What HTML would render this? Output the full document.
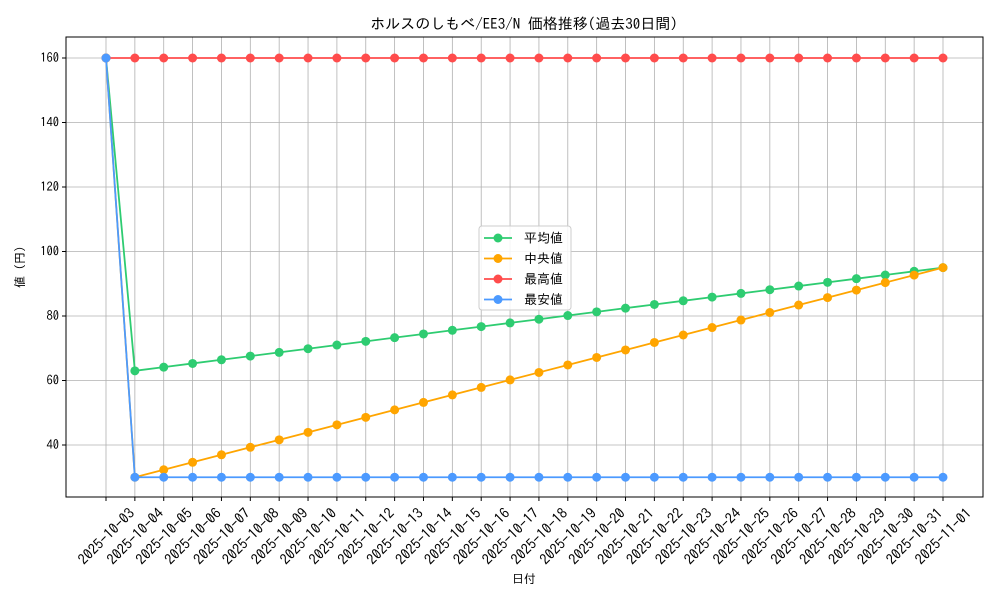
<!DOCTYPE html>
<html><head><meta charset="utf-8"><style>
body{margin:0;background:#fff}
svg{font-family:"IPAGothic","Noto Sans CJK JP",sans-serif}
</style></head><body>
<svg id="s" width="1000" height="600" xmlns="http://www.w3.org/2000/svg"></svg>
<script>
const s=document.getElementById('s');let h='';
const L=66,R=983,T=37,B=497,N=30;
const X=i=>106+i*(837/29);
const Y=v=>445-(v-40)*3.225;
h+=`<rect x="${L}" y="${T}" width="${R-L}" height="${B-T}" fill="#fff"/>`;
const dates=[];for(let i=0;i<N;i++){const d=new Date(Date.UTC(2025,9,3+i));dates.push(d.toISOString().slice(0,10));}
for(let i=0;i<N;i++){const x=X(i);h+=`<line x1="${x}" y1="${T}" x2="${x}" y2="${B}" stroke="#b0b0b0" stroke-width="0.8"/><line x1="${x}" y1="${B}" x2="${x}" y2="${B+4}" stroke="#000"/>`;
const cy=536;h+=`<text x="${x}" y="${cy}" font-size="14.5" text-anchor="middle" dominant-baseline="central" transform="rotate(-45 ${x} ${cy})">${dates[i]}</text>`;}
for(let v=40;v<=160;v+=20){const y=Y(v);h+=`<line x1="${L}" y1="${y}" x2="${R}" y2="${y}" stroke="#b0b0b0" stroke-width="0.8"/><line x1="${L-4}" y1="${y}" x2="${L}" y2="${y}" stroke="#000"/><text x="${L-7}" y="${y+4}" font-size="12.5" text-anchor="end">${v}</text>`;}
const ser=[
 ['#2ecc71',i=>i==0?160:63+(i-1)*32/28],
 ['#ffa500',i=>i==0?160:30+(i-1)*65/28],
 ['#ff4c4c',i=>160],
 ['#4c9aff',i=>i==0?160:30]];
for(const [c,f] of ser){let p='';for(let i=0;i<N;i++)p+=`${X(i)},${Y(f(i))} `;
h+=`<polyline points="${p}" fill="none" stroke="${c}" stroke-width="1.8"/>`;
for(let i=0;i<N;i++)h+=`<circle cx="${X(i)}" cy="${Y(f(i))}" r="4.5" fill="${c}"/>`;}
h+=`<rect x="${L}" y="${T}" width="${R-L}" height="${B-T}" fill="none" stroke="#000" stroke-width="1"/>`;
h+=`<rect x="479" y="226" width="92" height="84" rx="3" fill="#fff" fill-opacity="0.85" stroke="#ccc"/>`;
const names=['平均値','中央値','最高値','最安値'];
for(let k=0;k<4;k++){const y=238+k*20.5;h+=`<line x1="484" y1="${y}" x2="512" y2="${y}" stroke="${ser[k][0]}" stroke-width="1.8"/><circle cx="498" cy="${y}" r="4.5" fill="${ser[k][0]}"/><text x="524" y="${y+4.5}" font-size="13">${names[k]}</text>`;}
h+=`<text x="524" y="29" font-size="15" text-anchor="middle">ホルスのしもべ/EE3/N 価格推移(過去30日間)</text>`;
h+=`<text x="524" y="583" font-size="12" text-anchor="middle">日付</text>`;
h+=`<text x="24" y="267" font-size="12" text-anchor="middle" transform="rotate(-90 24 267)">値 (円)</text>`;
s.innerHTML=h;
</script>
</body></html>
